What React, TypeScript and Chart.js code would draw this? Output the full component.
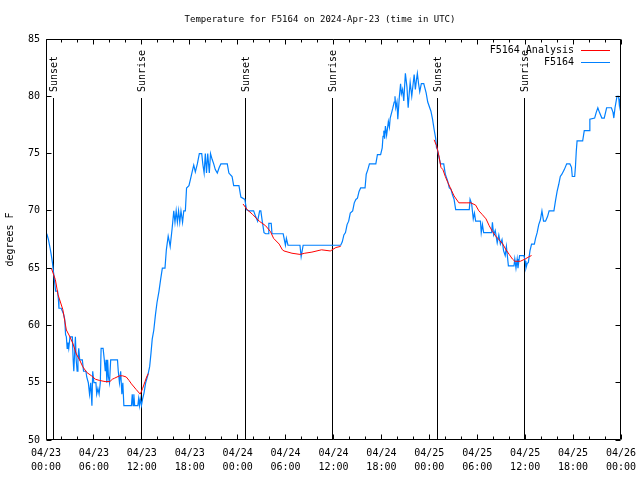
import React, { useEffect, useRef } from "react";
import { Chart, registerables } from "chart.js";

Chart.register(...registerables);

const TITLE = "Temperature for F5164 on 2024-Apr-23 (time in UTC)";
const Y_LABEL = "degrees F";
const START_MONTH = "04";
const START_DAY = 23;
const X_TICK_HOURS = [0, 6, 12, 18, 24, 30, 36, 42, 48, 54, 60, 66, 72];
const X_MINOR_STEP = 2;
const Y_MIN = 50;
const Y_MAX = 85;
const Y_STEP = 5;

const OBS_LABEL = "F5164";
const ANA_LABEL = "F5164 Analysis";
const OBS_COLOR = "#0080ff";
const ANA_COLOR = "#ff0000";

const EVENT_NAMES = ["Sunset", "Sunrise", "Sunset", "Sunrise", "Sunset", "Sunrise"];
const EVENT_HOURS = [1.0, 11.98, 24.96, 35.85, 49.0, 59.9];

// observed temperature [hour since 04/23 00:00 UTC, degrees F]
const OBS_SERIES: [number, number][] = [
  [0.1, 68], [0.3, 67.5], [0.5, 66.8], [0.65, 66.2], [0.8, 65.5], [0.95, 64.6], [1.05, 64], [1.2, 63],
  [1.45, 63], [1.55, 62.3], [1.62, 61.5], [1.9, 61.5], [2.2, 61], [2.35, 60.5], [2.45, 59.2], [2.55, 59],
  [2.65, 58], [2.75, 58.5], [2.85, 58], [3.0, 59], [3.3, 59], [3.4, 57], [3.48, 56], [3.58, 57.5],
  [3.68, 59], [3.78, 57], [3.9, 56], [4.0, 57], [4.1, 58], [4.22, 57], [4.55, 57], [4.7, 56],
  [5.0, 56], [5.1, 55.5], [5.3, 55], [5.45, 54], [5.6, 55], [5.75, 53], [5.85, 56], [6.0, 55],
  [6.25, 55], [6.35, 54], [6.5, 54.5], [6.65, 54], [6.8, 55], [6.9, 58], [7.15, 58], [7.3, 57],
  [7.42, 56], [7.52, 57], [7.62, 55], [7.72, 57], [7.82, 55.5], [7.95, 55], [8.1, 57], [8.95, 57],
  [9.05, 56], [9.2, 55], [9.35, 56], [9.5, 54], [9.62, 55], [9.75, 53], [10.7, 53], [10.8, 54],
  [10.9, 53], [11.0, 54], [11.1, 53], [11.5, 53], [11.6, 53.6], [11.7, 53], [11.8, 53.6], [11.95, 53],
  [12.1, 53.6], [12.27, 54.1], [12.48, 55], [12.77, 55.7], [12.98, 56.4], [13.15, 57.6], [13.3, 58.8], [13.5, 59.6],
  [13.7, 60.9], [13.9, 62], [14.15, 63], [14.35, 64], [14.57, 65], [14.9, 65], [15.07, 66.6], [15.3, 67.8],
  [15.45, 67.3], [15.55, 66.9], [15.8, 68.5], [16.0, 70], [16.15, 69], [16.3, 70], [16.45, 69], [16.6, 70],
  [16.75, 69], [16.9, 70], [17.1, 69], [17.25, 70], [17.45, 70], [17.6, 72], [17.9, 72.2], [18.1, 72.8],
  [18.3, 73.4], [18.5, 74], [18.7, 73.4], [18.95, 74.1], [19.2, 75], [19.5, 75], [19.65, 74], [19.8, 73.3],
  [19.95, 75], [20.1, 73.3], [20.25, 75], [20.45, 73.3], [20.6, 75], [20.8, 74.5], [21.0, 74.1], [21.2, 73.6],
  [21.45, 73.3], [21.7, 73.8], [21.9, 74.1], [22.7, 74.1], [22.9, 73.3], [23.3, 73], [23.5, 72.2], [24.16, 72.2],
  [24.4, 71.2], [24.9, 71.0], [25.1, 70.1], [25.4, 70], [26.0, 70], [26.25, 69.5], [26.5, 69.1], [26.75, 70],
  [26.9, 70], [27.1, 69], [27.3, 68.1], [27.5, 68], [27.8, 68], [27.9, 68.9], [28.2, 68.9], [28.3, 68],
  [29.7, 68], [29.98, 67], [30.1, 67.6], [30.3, 67], [31.8, 67], [31.95, 66], [32.2, 67], [36.9, 67],
  [37.1, 67.3], [37.3, 67.9], [37.5, 68.1], [37.7, 68.8], [37.9, 69.1], [38.1, 69.8], [38.4, 70], [38.6, 70.7],
  [38.8, 71], [39.0, 71.1], [39.2, 71.7], [39.4, 72], [39.95, 72], [40.1, 73.2], [40.3, 73.6], [40.5, 74.1],
  [41.3, 74.1], [41.5, 74.9], [41.9, 74.9], [42.1, 75.5], [42.2, 76.5], [42.3, 77], [42.4, 76.3], [42.5, 77.4],
  [42.65, 76.6], [42.87, 77.8], [43.0, 77.3], [43.1, 78.1], [43.4, 78.9], [43.6, 79.5], [43.7, 80], [43.8, 79],
  [43.95, 79.5], [44.05, 78], [44.25, 80], [44.4, 81.1], [44.5, 80.2], [44.65, 80.6], [44.8, 79.6], [45.0, 82],
  [45.2, 80.8], [45.35, 79], [45.5, 80.4], [45.6, 81.2], [45.8, 80], [46.1, 81.9], [46.25, 80.6], [46.4, 81.5],
  [46.5, 82], [46.65, 81.1], [46.8, 80.4], [47.0, 81.1], [47.3, 81.1], [47.6, 80.3], [47.8, 79.5], [48.2, 78.7],
  [48.4, 78], [48.6, 77.1], [48.8, 76.3], [48.9, 75.5], [49.0, 75.4], [49.2, 74.7], [49.4, 74.1], [49.8, 74.1],
  [50.0, 73.2], [50.3, 72.6], [50.5, 72], [50.7, 71.9], [50.9, 71.4], [51.1, 71], [51.3, 70.1], [53.0, 70.1],
  [53.1, 71], [53.3, 70.6], [53.5, 69.3], [53.65, 69.8], [53.8, 69.1], [54.0, 69.1], [54.4, 69.1], [54.5, 68.1],
  [54.65, 68.8], [54.8, 68.1], [55.8, 68.1], [55.9, 69], [56.05, 67.9], [56.25, 68.3], [56.5, 67.2], [56.7, 67.9],
  [56.9, 67.1], [57.1, 67.5], [57.3, 66.5], [57.5, 66.1], [57.65, 66.9], [57.9, 65.2], [58.6, 65.2], [58.7, 65.8],
  [58.85, 65], [59.0, 65.8], [59.1, 65], [59.3, 66.1], [59.85, 66.1], [60.0, 65.6], [60.1, 65], [60.25, 65.4],
  [60.4, 65.5], [60.6, 66.5], [60.8, 67.1], [61.15, 67.1], [61.3, 67.6], [61.5, 68.1], [61.7, 68.8], [61.9, 69.2],
  [62.1, 70], [62.3, 69.1], [62.55, 69.1], [62.8, 69.5], [63.0, 70], [63.6, 70], [63.8, 70.9], [64.0, 71.7],
  [64.2, 72.3], [64.4, 73], [64.6, 73.2], [64.9, 73.6], [65.2, 74.1], [65.6, 74.1], [65.8, 73.8], [65.9, 73],
  [66.2, 73], [66.3, 73.9], [66.4, 75.2], [66.5, 76.1], [67.2, 76.1], [67.4, 77], [68.0, 77], [68.1, 78],
  [68.7, 78.1], [68.9, 78.6], [69.1, 79], [69.3, 78.6], [69.6, 78.1], [69.9, 78.1], [70.2, 79], [70.8, 79],
  [71.0, 78.6], [71.1, 78.1], [71.25, 79], [71.4, 79.6], [71.5, 80], [71.7, 80], [71.8, 79.2], [71.9, 79.8],
];

// analysis temperature (three night segments, null = gap)
const ANA_SERIES: [number, number | null][] = [
  [0.67, 65], [1.17, 64], [1.5, 62.7], [2.1, 61.4], [2.55, 59.6], [3.0, 59], [3.38, 58.4], [3.8, 57.5],
  [4.2, 57], [4.6, 56.4], [5.1, 55.9], [5.7, 55.6], [6.2, 55.3], [6.7, 55.2], [7.4, 55.1], [8.0, 55.1],
  [8.3, 55.3], [8.6, 55.4], [9.2, 55.6], [9.6, 55.6], [10.05, 55.5], [10.4, 55.2], [10.7, 54.9], [11.3, 54.4],
  [11.8, 54.0], [12.1, 54.5], [12.4, 55.1], [12.6, 55.5], [12.8, 55.8],
  [18, null],
  [24.67, 70.6], [25.2, 70.1], [25.85, 69.7], [26.7, 69.1], [27.5, 68.7], [28.1, 68.2], [28.5, 67.6], [29.2, 67.1],
  [29.6, 66.6], [29.8, 66.5], [30.8, 66.3], [31.8, 66.2], [32.4, 66.3], [33.3, 66.4], [34.5, 66.6], [35.6, 66.5],
  [36.3, 66.8], [36.9, 66.9],
  [42, null],
  [48.6, 76.2], [48.9, 75.7], [49.2, 74.8], [49.45, 73.8], [49.7, 73.6], [50.0, 73.0], [50.3, 72.5], [50.7, 71.9],
  [51.1, 71.3], [51.7, 70.7], [52.6, 70.7], [53.2, 70.7], [53.8, 70.5], [54.2, 70.0], [54.6, 69.7], [55.1, 69.3],
  [55.5, 68.7], [55.9, 68.2], [56.3, 67.8], [56.7, 67.5], [57.2, 67.1], [57.6, 66.6], [58.0, 66.2], [58.4, 65.8],
  [58.7, 65.6], [59.4, 65.6], [60.0, 65.8], [60.5, 66.0], [60.8, 66.1],
];

const FONT_FAMILY = "'DejaVu Sans Mono', 'Liberation Mono', monospace";
const FONT_SIZE = 10;
const TITLE_FONT_SIZE = 9;

function pad2(n: number) {
  return n < 10 ? "0" + n : String(n);
}

function xTickLabel(v: number): string[] {
  const day = START_DAY + Math.floor(v / 24);
  const hour = v % 24;
  return [START_MONTH + "/" + pad2(day), pad2(hour) + ":00"];
}

const gnuplotDecor = {
  id: "gnuplotDecor",
  beforeDatasetsDraw(chart: any) {
    const { ctx, chartArea, scales } = chart;
    const xs = scales.x;
    ctx.save();
    ctx.strokeStyle = "#000";
    ctx.lineWidth = 1;
    ctx.fillStyle = "#000";
    ctx.font = `${FONT_SIZE}px ${FONT_FAMILY}`;
    EVENT_HOURS.forEach((h, i) => {
      const px = Math.floor(xs.getPixelForValue(h)) + 0.5;
      ctx.beginPath();
      ctx.moveTo(px, 98);
      ctx.lineTo(px, chartArea.bottom);
      ctx.stroke();
      ctx.save();
      ctx.translate(px + 1, 92);
      ctx.rotate(-Math.PI / 2);
      ctx.textAlign = "left";
      ctx.textBaseline = "middle";
      ctx.fillText(EVENT_NAMES[i], 0, 0);
      ctx.restore();
    });
    ctx.restore();
  },
  afterDraw(chart: any) {
    const { ctx, chartArea, scales } = chart;
    const xs = scales.x;
    const ys = scales.y;
    const L = chartArea.left + 0.5;
    const R = chartArea.right - 0.5;
    const T = chartArea.top + 0.5;
    const B = chartArea.bottom - 0.5;
    ctx.save();
    // title, centred on the canvas
    ctx.fillStyle = "#000";
    ctx.font = `${TITLE_FONT_SIZE}px ${FONT_FAMILY}`;
    ctx.textAlign = "center";
    ctx.textBaseline = "middle";
    ctx.fillText(TITLE, 320, 20);

    ctx.strokeStyle = "#000";
    ctx.lineWidth = 1;
    ctx.beginPath();
    ctx.rect(L, T, R - L, B - T);
    ctx.stroke();
    // x ticks (major + minor), mirrored
    ctx.beginPath();
    for (let v = 0; v <= 72; v += X_MINOR_STEP) {
      const px = Math.floor(xs.getPixelForValue(v)) + 0.5;
      const len = v % 6 === 0 ? 5 : 3;
      ctx.moveTo(px, B);
      ctx.lineTo(px, B - len);
      ctx.moveTo(px, T);
      ctx.lineTo(px, T + len);
    }
    for (let v = Y_MIN; v <= Y_MAX; v += Y_STEP) {
      const py = Math.floor(ys.getPixelForValue(v)) + 0.5;
      ctx.moveTo(L, py);
      ctx.lineTo(L + 5, py);
      ctx.moveTo(R, py);
      ctx.lineTo(R - 5, py);
    }
    ctx.stroke();
    // legend (gnuplot style: text then sample line)
    ctx.font = `${FONT_SIZE}px ${FONT_FAMILY}`;
    ctx.textAlign = "right";
    ctx.textBaseline = "middle";
    ctx.fillStyle = "#000";
    const rows = chart.data.datasets;
    rows.forEach((ds: any, i: number) => {
      const y = 50 + i * 12.5;
      ctx.fillText(ds.label, 574, y);
      ctx.strokeStyle = ds.borderColor;
      ctx.beginPath();
      ctx.moveTo(581, Math.floor(y) + 0.5);
      ctx.lineTo(610, Math.floor(y) + 0.5);
      ctx.stroke();
    });
    ctx.restore();
  },
};

export default function App() {
  const ref = useRef<HTMLCanvasElement | null>(null);
  useEffect(() => {
    if (!ref.current) return;
    const font = { family: FONT_FAMILY, size: FONT_SIZE, weight: "normal" as const };
    const chart = new Chart(ref.current, {
      type: "line",
      data: {
        datasets: [
          {
            label: ANA_LABEL,
            data: ANA_SERIES.map(([x, y]) => ({ x, y })),
            borderColor: ANA_COLOR,
            borderWidth: 1,
            pointRadius: 0,
            spanGaps: false,
            tension: 0,
          },
          {
            label: OBS_LABEL,
            data: OBS_SERIES.map(([x, y]) => ({ x, y })),
            borderColor: OBS_COLOR,
            borderWidth: 1.2,
            pointRadius: 0,
            tension: 0,
          },
        ],
      },
      options: {
        animation: false,
        responsive: false,
        maintainAspectRatio: false,
        devicePixelRatio: 1,
        layout: { padding: { left: 0, right: 19, top: 39, bottom: 0 } },
        plugins: {
          legend: { display: false },
          tooltip: { enabled: false },
          title: { display: false },
        },
        scales: {
          x: {
            type: "linear",
            min: 0,
            max: 72,
            afterBuildTicks: (s: any) => {
              s.ticks = X_TICK_HOURS.map((v) => ({ value: v }));
            },
            afterFit: (s: any) => {
              s.height = 40;
              s.paddingLeft = 0;
              s.paddingRight = 0;
            },
            grid: { display: false, drawTicks: false },
            border: { display: false },
            ticks: {
              autoSkip: false,
              maxRotation: 0,
              minRotation: 0,
              padding: 6,
              color: "#000",
              font: { ...font, lineHeight: 1.4 },
              callback: (v: any) => xTickLabel(Number(v)),
            },
          },
          y: {
            min: Y_MIN,
            max: Y_MAX,
            afterFit: (s: any) => {
              s.width = 46;
              s.paddingTop = 0;
              s.paddingBottom = 0;
            },
            grid: { display: false, drawTicks: false },
            border: { display: false },
            ticks: {
              stepSize: Y_STEP,
              padding: 6,
              color: "#000",
              font,
            },
            title: {
              display: true,
              text: Y_LABEL,
              color: "#000",
              font: { ...font, lineHeight: 1.2 },
              padding: { top: 4, bottom: 0 },
            },
          },
        },
      },
      plugins: [gnuplotDecor],
    });
    return () => chart.destroy();
  }, []);
  return (
    <div style={{ position: "absolute", left: 0, top: 0, width: 640, height: 480, background: "#fff" }}>
      <canvas ref={ref} width={640} height={480} style={{ display: "block" }} />
    </div>
  );
}
